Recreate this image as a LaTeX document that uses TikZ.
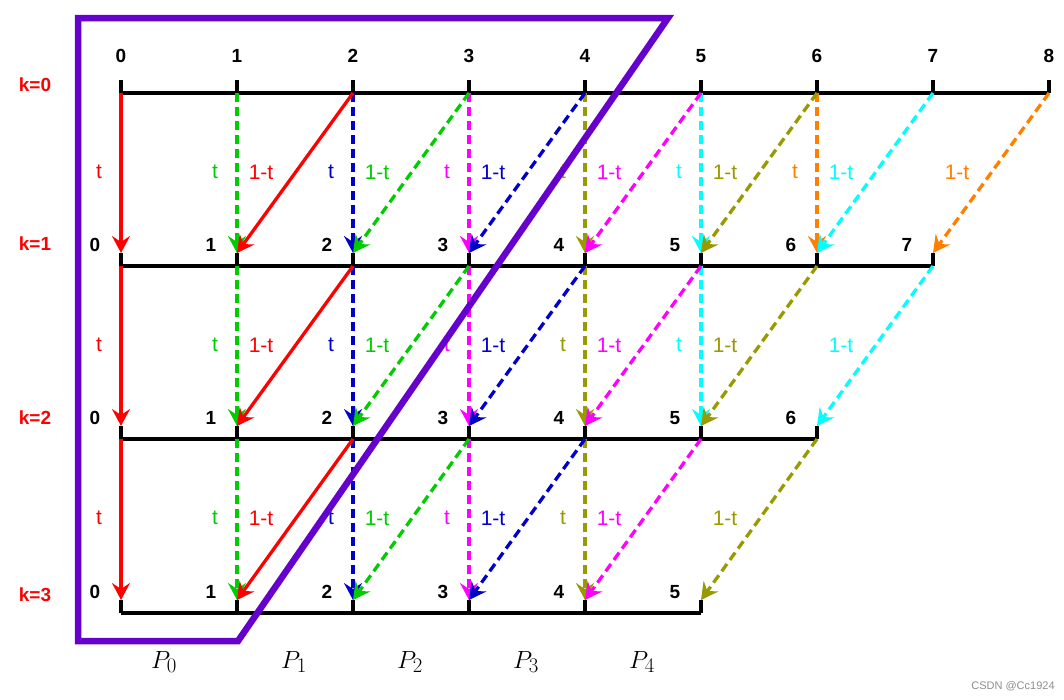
\documentclass[tikz,border=0pt]{standalone}
\usepackage{fontspec}
\setmainfont{Liberation Sans}
\usetikzlibrary{arrows.meta,calc}
\definecolor{c0}{RGB}{255,0,0}
\definecolor{c1}{RGB}{0,204,0}
\definecolor{c2}{RGB}{0,0,200}
\definecolor{c3}{RGB}{255,0,255}
\definecolor{c4}{RGB}{153,153,0}
\definecolor{c5}{RGB}{0,255,255}
\definecolor{c6}{RGB}{255,128,0}
\definecolor{framec}{RGB}{102,0,204}
\tikzset{
  axis/.style={line width=3.2pt,black},
  tickl/.style={line width=3.2pt,black},
  num/.style={font=\fontsize{19}{21}\selectfont\bfseries,inner sep=0pt},
  klab/.style={font=\fontsize{19}{21}\selectfont\bfseries,text=c0,inner sep=0pt},
  wlab/.style={font=\fontsize{21}{23}\selectfont,inner sep=0pt},
  arr/.style={line width=3.3pt,-{Stealth[length=17pt,width=18pt,inset=6pt]}},
  dsh/.style={dash pattern=on 9pt off 5pt},
  frame/.style={line width=6.5pt,draw=framec},
  plab/.style={font=\fontsize{29}{32}\selectfont,inner sep=0pt}
}
\begin{document}
\begin{tikzpicture}[x=1pt,y=-1pt]
\useasboundingbox (0,0) rectangle (1064,699);
% levels
\foreach \k/\y in {0/93,1/266,2/439,3/613}{
  \pgfmathtruncatemacro\n{8-\k}
  \foreach \i in {0,...,\n}{
    \coordinate (b-\k-\i) at ({121+116*\i},\y);
    \coordinate (t-\k-\i) at ({121+116*\i},\y-13);
    \draw[tickl] (b-\k-\i) -- (t-\k-\i);
  }
  \draw[axis] (b-\k-0) -- (b-\k-\n);
}
% top numbers
\foreach \i in {0,...,8}{
  \node[num] (n-0-\i) at ($(t-0-\i)+(0,-24)$) {\i};
}
% lower numbers
\foreach \k in {1,2,3}{
  \pgfmathtruncatemacro\n{8-\k}
  \foreach \i in {0,...,\n}{
    \node[num] (n-\k-\i) at ($(t-\k-\i)+(-26,-8)$) {\i};
  }
}
% k labels
\node[klab] (k0) at (35,85) {k=0};
\node[klab] (k1) at (35,244) {k=1};
\node[klab] (k2) at (35,418) {k=2};
\node[klab] (k3) at (35,595) {k=3};
% arrows
\foreach \k in {0,1,2}{
  \pgfmathtruncatemacro\kk{\k+1}
  \pgfmathtruncatemacro\nv{6-\k}
  \pgfmathtruncatemacro\nd{7-\k}
  \pgfmathtruncatemacro\my{93+173*\k+79}
  \foreach \j in {0,...,\nv}{
    \ifnum\j=0 \tikzset{cur/.style={solid}}\else\tikzset{cur/.style={dsh}}\fi
    \draw[arr,cur,draw=c\j] (b-\k-\j) -- (t-\kk-\j);
    \path (b-\k-\j) ++(-22,0) coordinate (tp);
    \node[wlab,text=c\j] (tl-\k-\j) at (tp |- 0,\my) {t};
  }
  \foreach \j in {1,...,\nd}{
    \pgfmathtruncatemacro\jm{\j-1}
    \pgfmathtruncatemacro\jp{\j+1}
    \ifnum\jm=0 \tikzset{cur/.style={solid}}\else\tikzset{cur/.style={dsh}}\fi
    \draw[arr,cur,draw=c\jm] (b-\k-\jp) -- (t-\kk-\j);
    \path (b-\k-\j) ++(24,0) coordinate (tp);
    \node[wlab,text=c\jm] (ol-\k-\j) at (tp |- 0,\my) {1-t};
  }
}
% frame
\draw[frame] (78,641) -- (78,18) -- (668,18) -- (238,641) -- cycle;
% P labels
\node[plab] (P0) at (164,662) {$P_0$};
\foreach \i in {1,...,4}{
  \node[plab] (P\i) at ({178+116*\i},662) {$P_\i$};
}
\node[font=\fontsize{11}{12}\selectfont,text=black!45,inner sep=0pt] (wm) at (1013,686) {CSDN @Cc1924};
\end{tikzpicture}
\end{document}
